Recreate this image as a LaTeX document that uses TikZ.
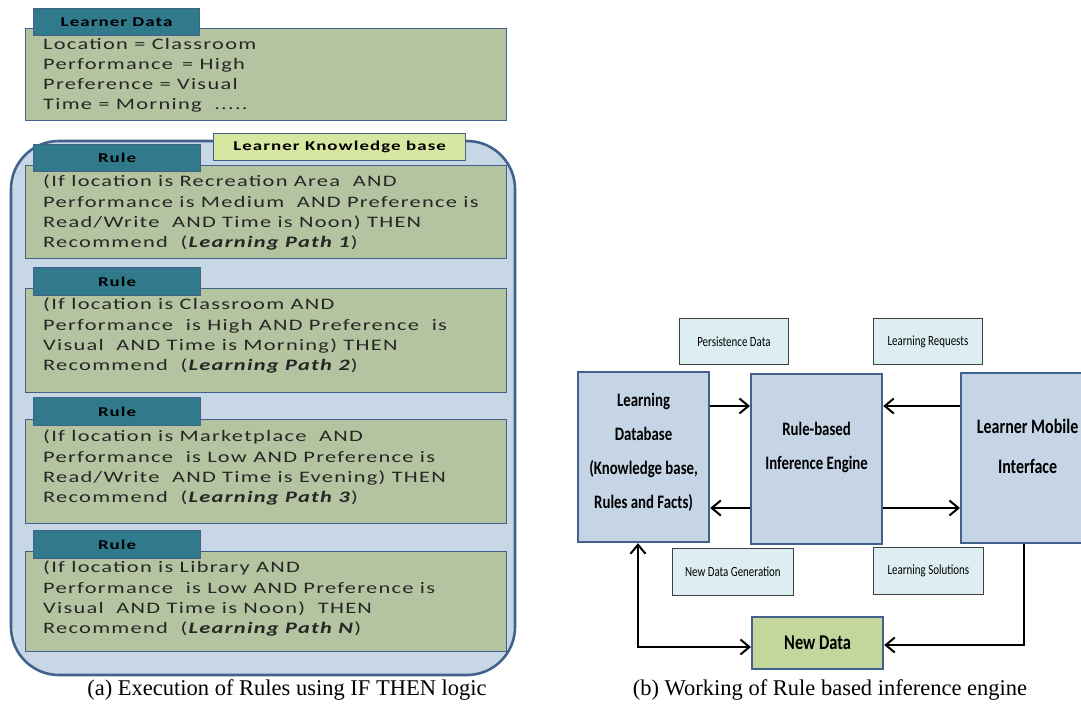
\documentclass[tikz,border=0pt]{standalone}
\usepackage{fontspec}
\setmainfont{Liberation Serif}
\newfontfamily\wide[FakeStretch=1.4,LetterSpace=8]{Carlito}
\newfontfamily\narrow[FakeStretch=0.78]{Carlito}
\usetikzlibrary{arrows.meta}
\definecolor{tabteal}{RGB}{49,122,140}
\definecolor{olive}{RGB}{181,196,160}
\definecolor{contblue}{RGB}{200,215,230}
\definecolor{bord}{RGB}{66,98,140}
\definecolor{kbfill}{RGB}{215,230,160}
\definecolor{bigfill}{RGB}{197,213,230}
\definecolor{smallfill}{RGB}{221,238,243}
\definecolor{ndfill}{RGB}{195,214,155}
\newcommand\mystack[2]{\raisebox{#1}[\height][\depth]{\begin{tabular}{@{}c@{}}#2\end{tabular}}}
\tikzset{
  tabbox/.style={draw=bord, line width=1.2pt, fill=tabteal, anchor=north west, inner sep=0pt,
     font=\wide\bfseries\fontsize{13.5}{15}\selectfont, text=black},
  rulebox/.style={draw=bord, line width=1.2pt, fill=olive, anchor=north west, inner sep=0pt},
  ruletext/.style={anchor=north west, align=left, inner sep=0pt,
     font=\wide\fontsize{16}{20.2}\selectfont, text=black!85},
  bigbox/.style={draw=bord, line width=2.2pt, fill=bigfill, anchor=north west, inner sep=0pt,
     font=\narrow\bfseries\fontsize{19}{34}\selectfont},
  lblbox/.style={draw=black!75, line width=0.8pt, fill=smallfill, anchor=north west, inner sep=0pt,
     font=\narrow\fontsize{14}{16}\selectfont},
  conn/.style={line width=2.2pt, -{Straight Barb[length=9pt,width=15pt,line width=2pt]}},
  captext/.style={font=\fontsize{22.5}{25}\selectfont}
}
\begin{document}
\begin{tikzpicture}[x=1pt,y=-1pt]
\useasboundingbox (0,0) rectangle (1081,710);
% ---------- panel (a)
\node[rulebox, minimum width=481, minimum height=92] (ld) at (25,28) {};
\node[tabbox, minimum width=166, minimum height=27] (ldtab) at (33,8) {Learner Data};
\node[ruletext] (ldtext) at (43,38) {Location = Classroom\\Performance\ \,= High\\Preference = Visual\\Time = Morning\ \ .....};

\draw[draw=bord, line width=2.6pt, fill=contblue, rounded corners=48] (11,141) rectangle (515,675);
\node[draw=bord, line width=1.2pt, fill=kbfill, anchor=north west, inner sep=0pt, minimum width=252, minimum height=27,
  font=\wide\bfseries\fontsize{13.5}{15}\selectfont] (kb) at (213,133) {Learner Knowledge base};

\node[rulebox, minimum width=481, minimum height=93] (r1) at (25,165) {};
\node[tabbox, minimum width=167, minimum height=27] (t1) at (33,144) {Rule};
\node[ruletext] (x1) at (43,175) {(If location is Recreation Area\ \ AND\\Performance is Medium\ \ AND Preference is\\Read/Write\ \ AND Time is Noon) THEN\\Recommend\ \ (\textbf{\itshape Learning Path 1})};

\node[rulebox, minimum width=481, minimum height=104] (r2) at (25,288) {};
\node[tabbox, minimum width=167, minimum height=28] (t2) at (33,267) {Rule};
\node[ruletext] (x2) at (43,298) {(If location is Classroom AND\\Performance\ \ is High AND Preference\ \ is\\Visual\ \ AND Time is Morning) THEN\\Recommend\ \ (\textbf{\itshape Learning Path 2})};

\node[rulebox, minimum width=481, minimum height=104] (r3) at (25,419) {};
\node[tabbox, minimum width=167, minimum height=28] (t3) at (33,397) {Rule};
\node[ruletext] (x3) at (43,430) {(If location is Marketplace\ \ AND\\Performance\ \ is Low AND Preference is\\Read/Write\ \ AND Time is Evening) THEN\\Recommend\ \ (\textbf{\itshape Learning Path 3})};

\node[rulebox, minimum width=481, minimum height=100] (r4) at (25,551) {};
\node[tabbox, minimum width=167, minimum height=28] (t4) at (33,530) {Rule};
\node[ruletext] (x4) at (43,561) {(If location is Library AND\\Performance\ \ is Low AND Preference is\\Visual\ \ AND Time is Noon)\ \ THEN\\Recommend\ \ (\textbf{\itshape Learning Path N})};

\node[captext] (capa) at (287,690) {(a) Execution of Rules using IF THEN logic};

% ---------- panel (b)
\node[lblbox, minimum width=109, minimum height=46] (pd) at (679,318) {Persistence Data};
\node[lblbox, minimum width=109, minimum height=46] (lr) at (873,318) {Learning Requests};
\node[bigbox, minimum width=131, minimum height=170] (db) at (577,371) {\mystack{6pt}{Learning\\Database\\(Knowledge base,\\Rules and Facts)}};
\node[bigbox, minimum width=131, minimum height=170] (ie) at (750,373) {\mystack{13pt}{Rule-based\\Inference Engine}};
\node[bigbox, minimum width=135, minimum height=170, font=\narrow\bfseries\fontsize{20.5}{40}\selectfont] (mi) at (960,372) {\hspace*{-2pt}\mystack{13pt}{Learner Mobile\\Interface}};
\node[lblbox, minimum width=121, minimum height=47] (ng) at (672,548) {New Data Generation};
\node[lblbox, minimum width=110, minimum height=47] (ls) at (873,547) {Learning Solutions};
\node[bigbox, fill=ndfill, minimum width=131, minimum height=52, font=\narrow\bfseries\fontsize{21}{24}\selectfont] (nd) at (751,616) {New Data};

\draw[conn] (db.east |- 0,406) -- (ie.west |- 0,406);
\draw[conn] (ie.west |- 0,508) -- (db.east |- 0,508);
\draw[conn] (mi.west |- 0,406) -- (ie.east |- 0,406);
\draw[conn] (ie.east |- 0,508) -- (mi.west |- 0,508);
\coordinate (c1) at (638,647);
\coordinate (c2) at (1024,645);
\draw[conn, {Straight Barb[length=9pt,width=15pt,line width=2pt]}-{Straight Barb[length=9pt,width=15pt,line width=2pt]}] (db.south -| c1) -- (c1) -- (nd.west |- c1);
\draw[conn] (mi.south -| c2) -- (c2) -- (nd.east |- c2);

\node[captext] (capb) at (830,690) {(b) Working of Rule based inference engine};
\end{tikzpicture}
\end{document}
